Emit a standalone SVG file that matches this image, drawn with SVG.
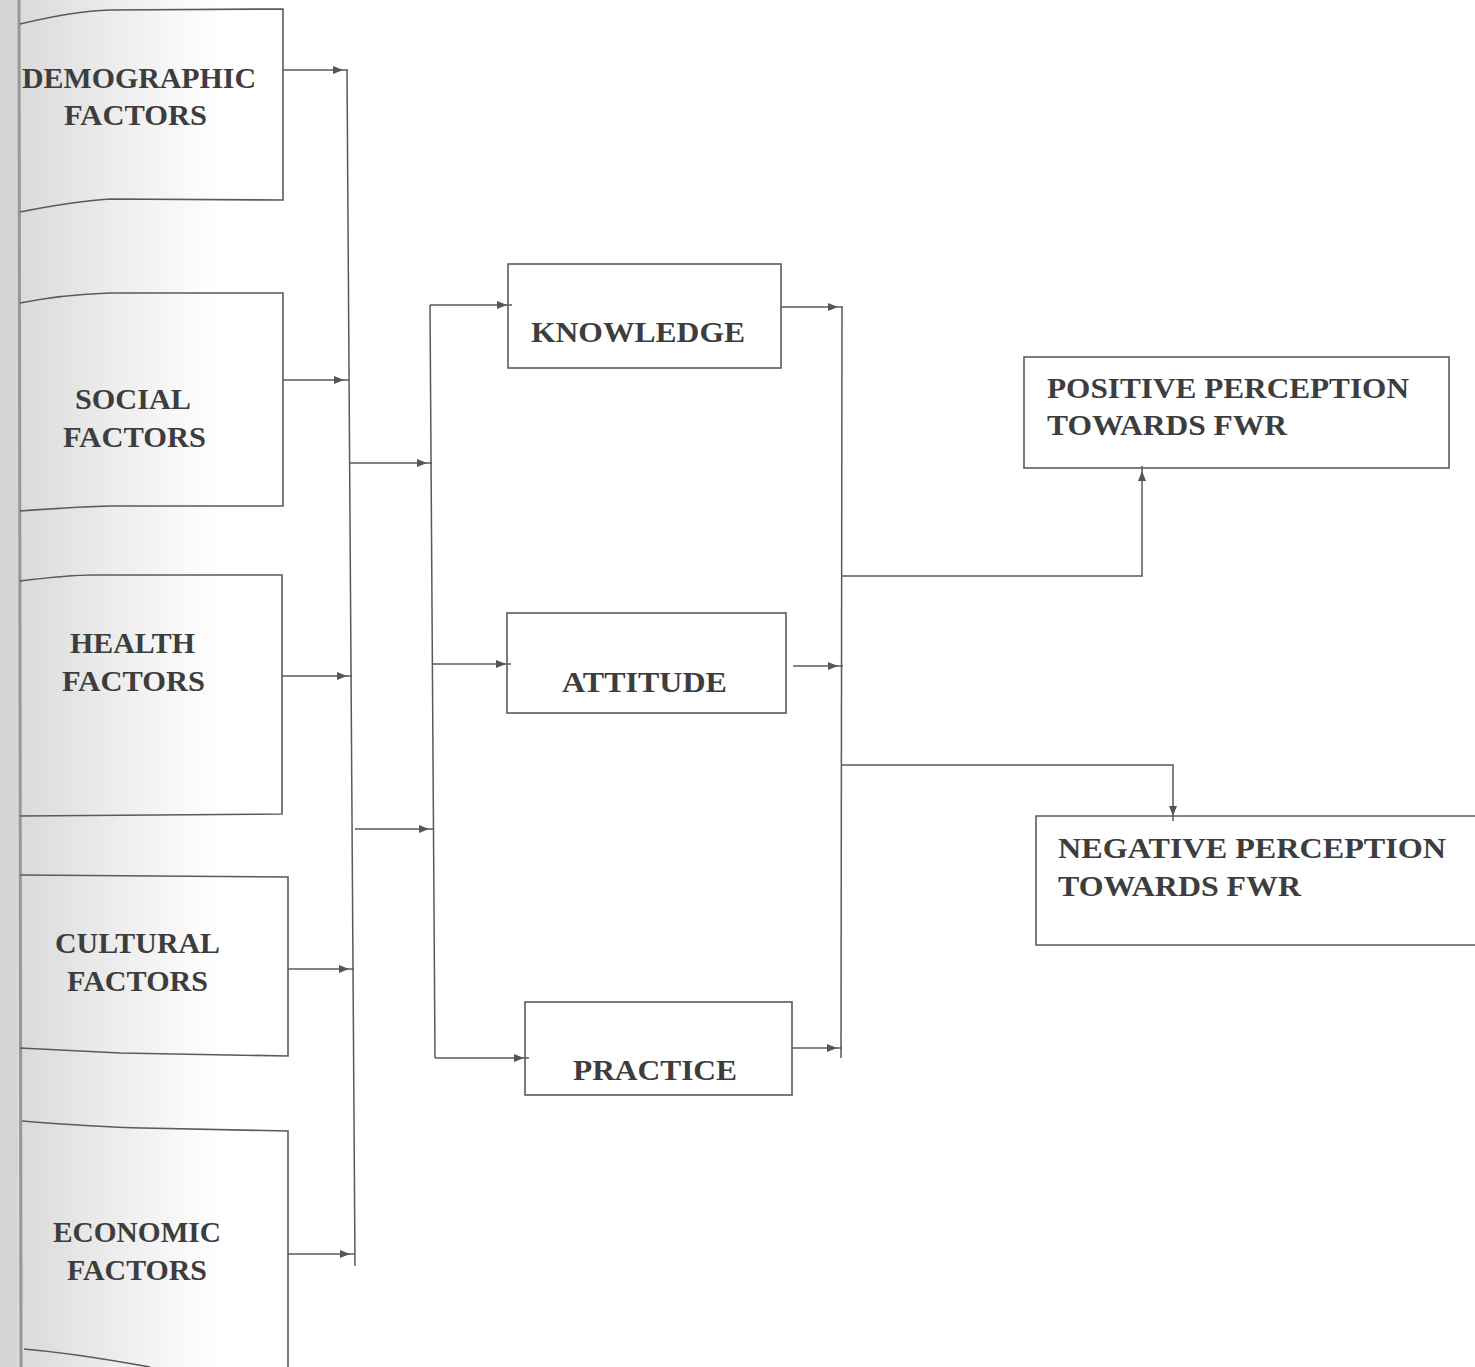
<svg xmlns="http://www.w3.org/2000/svg" width="1475" height="1367" viewBox="0 0 1475 1367">
<defs>
<linearGradient id="shade" x1="0" y1="0" x2="1" y2="0">
<stop offset="0" stop-color="#d6d6d6"/>
<stop offset="0.5" stop-color="#ececec"/>
<stop offset="1" stop-color="#ffffff"/>
</linearGradient>
<marker id="ah" markerUnits="userSpaceOnUse" markerWidth="20" markerHeight="10" refX="15" refY="4" orient="auto">
<path d="M0,0 L10,4 L0,8 z" fill="#555"/>
</marker>
<style>
.box{fill:none;stroke:#5a5a5a;stroke-width:1.6}
.conn{fill:none;stroke:#5a5a5a;stroke-width:1.5}
.arr{marker-end:url(#ah)}
text{font-family:"Liberation Serif","Times New Roman",serif;font-weight:bold;font-size:29px;fill:#3d3d3d}
</style>
</defs>
<rect x="0" y="0" width="1475" height="1367" fill="#ffffff"/>
<rect x="0" y="0" width="220" height="1367" fill="url(#shade)"/>
<rect x="0" y="0" width="17" height="1367" fill="#d4d4d4"/>
<line x1="19" y1="0" x2="21" y2="1367" stroke="#969696" stroke-width="3"/>

<g id="demographic">
<path class="box" d="M20,24 C45,18 80,11 110,10 L283,9 L283,200 L110,199 C80,201 45,207 20,212"/>
<text x="22" y="88" textLength="234" lengthAdjust="spacingAndGlyphs">DEMOGRAPHIC</text>
<text x="64" y="125" textLength="143" lengthAdjust="spacingAndGlyphs">FACTORS</text>
</g>
<g id="social">
<path class="box" d="M20,303 C45,298 80,294 110,293 L283,293 L283,506 L110,506 C80,507 45,509 20,511"/>
<text x="75" y="409" textLength="116" lengthAdjust="spacingAndGlyphs">SOCIAL</text>
<text x="63" y="447" textLength="143" lengthAdjust="spacingAndGlyphs">FACTORS</text>
</g>
<g id="health">
<path class="box" d="M20,581 C45,578 70,575 93,575 L282,575 L282,814 L20,816"/>
<text x="70" y="653" textLength="125" lengthAdjust="spacingAndGlyphs">HEALTH</text>
<text x="62" y="691" textLength="143" lengthAdjust="spacingAndGlyphs">FACTORS</text>
</g>
<g id="cultural">
<path class="box" d="M20,875 L288,877 L288,1056 L120,1053 C80,1051 45,1049 20,1048"/>
<text x="55" y="953" textLength="165" lengthAdjust="spacingAndGlyphs">CULTURAL</text>
<text x="67" y="991" textLength="141" lengthAdjust="spacingAndGlyphs">FACTORS</text>
</g>
<g id="economic">
<path class="box" d="M22,1121 C60,1124 100,1127 143,1128 L288,1131 L288,1367"/>
<path class="box" d="M24,1349 C60,1352 100,1358 150,1367"/>
<text x="53" y="1242" textLength="168" lengthAdjust="spacingAndGlyphs">ECONOMIC</text>
<text x="67" y="1280" textLength="140" lengthAdjust="spacingAndGlyphs">FACTORS</text>
</g>

<g id="knowledge">
<rect class="box" x="508" y="264" width="273" height="104"/>
<text x="531" y="342" textLength="214" lengthAdjust="spacingAndGlyphs">KNOWLEDGE</text>
</g>
<g id="attitude">
<rect class="box" x="507" y="613" width="279" height="100"/>
<text x="562" y="692" textLength="165" lengthAdjust="spacingAndGlyphs">ATTITUDE</text>
</g>
<g id="practice">
<rect class="box" x="525" y="1002" width="267" height="93"/>
<text x="573" y="1080" textLength="164" lengthAdjust="spacingAndGlyphs">PRACTICE</text>
</g>
<g id="positive">
<rect class="box" x="1024" y="357" width="425" height="111"/>
<text x="1047" y="398" textLength="362" lengthAdjust="spacingAndGlyphs">POSITIVE PERCEPTION</text>
<text x="1047" y="435" textLength="240" lengthAdjust="spacingAndGlyphs">TOWARDS FWR</text>
</g>
<g id="negative">
<path class="box" d="M1476,816 L1036,816 L1036,945 L1476,945"/>
<text x="1058" y="858" textLength="388" lengthAdjust="spacingAndGlyphs">NEGATIVE PERCEPTION</text>
<text x="1058" y="896" textLength="243" lengthAdjust="spacingAndGlyphs">TOWARDS FWR</text>
</g>

<g id="connectors">
<line class="conn" x1="347" y1="70" x2="355" y2="1266"/>
<line class="conn arr" x1="283" y1="70" x2="348" y2="70"/>
<line class="conn arr" x1="283" y1="380" x2="349" y2="380"/>
<line class="conn arr" x1="282" y1="676" x2="352" y2="676"/>
<line class="conn arr" x1="288" y1="969" x2="354" y2="969"/>
<line class="conn arr" x1="288" y1="1254" x2="355" y2="1254"/>

<line class="conn" x1="430" y1="305" x2="435" y2="1058"/>
<line class="conn arr" x1="349" y1="463" x2="432" y2="463"/>
<line class="conn arr" x1="355" y1="829" x2="434" y2="829"/>
<line class="conn arr" x1="430" y1="305" x2="512" y2="305"/>
<line class="conn arr" x1="432" y1="664" x2="511" y2="664"/>
<line class="conn arr" x1="435" y1="1058" x2="529" y2="1058"/>

<line class="conn" x1="842" y1="307" x2="841" y2="1058"/>
<line class="conn arr" x1="781" y1="307" x2="843" y2="307"/>
<line class="conn arr" x1="793" y1="666" x2="843" y2="666"/>
<line class="conn arr" x1="792" y1="1048" x2="842" y2="1048"/>

<path class="conn arr" d="M842,576 L1142,576 L1142,466"/>
<path class="conn arr" d="M842,765 L1173,765 L1173,821"/>
</g>
</svg>
